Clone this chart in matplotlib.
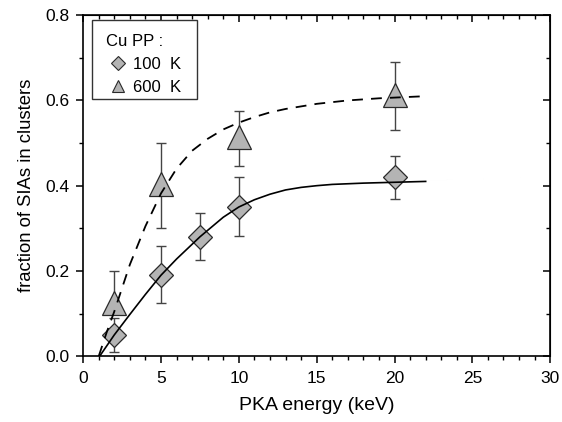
import matplotlib
matplotlib.use("Agg")
import matplotlib.pyplot as plt
from matplotlib.lines import Line2D
from matplotlib.patches import Rectangle
from matplotlib.ticker import MultipleLocator

plt.rcParams['font.family'] = ['Liberation Sans', 'DejaVu Sans']

# 100 K data (diamonds)
e_100 = [2, 5, 7.5, 10, 20]
f_100 = [0.05, 0.19, 0.28, 0.35, 0.42]
lo_100 = [0.01, 0.124, 0.225, 0.282, 0.368]
hi_100 = [0.09, 0.258, 0.335, 0.42, 0.47]

# 600 K data (triangles)
e_600 = [2, 5, 10, 20]
f_600 = [0.125, 0.405, 0.515, 0.613]
lo_600 = [0.107, 0.30, 0.446, 0.53]
hi_600 = [0.20, 0.50, 0.575, 0.69]

# fitted curves
fit100_x = [1.06, 2.0, 3.0, 4.0, 5.0, 6.0, 7.5, 9.0, 10.0, 11.0, 12.0, 13.0, 14.0, 15.0, 16.0, 18.0, 20.0, 22.0]
fit100_y = [0.0, 0.05, 0.098, 0.145, 0.19, 0.228, 0.28, 0.326, 0.35, 0.367, 0.38, 0.39, 0.396, 0.4, 0.403, 0.406, 0.408, 0.41]
fit600_x = [1.0, 1.5, 2.0, 3.0, 4.0, 5.0, 6.0, 7.0, 8.0, 9.0, 10.0, 11.0, 12.0, 13.0, 15.0, 17.0, 19.0, 22.0]
fit600_y = [0.0, 0.055, 0.105, 0.215, 0.305, 0.382, 0.44, 0.482, 0.51, 0.532, 0.548, 0.561, 0.572, 0.58, 0.592, 0.6, 0.605, 0.61]

fill = '#b4b4b4'
edge = '#2a2a2a'
bar_col = '#444444'

fig = plt.figure(figsize=(5.62, 4.22), dpi=100)
ax = fig.add_axes([0.148, 0.156, 0.831, 0.808])

err100 = [[f - l for f, l in zip(f_100, lo_100)], [h - f for f, h in zip(f_100, hi_100)]]
err600 = [[f - l for f, l in zip(f_600, lo_600)], [h - f for f, h in zip(f_600, hi_600)]]

ax.errorbar(e_100, f_100, yerr=err100, fmt='none', ecolor=bar_col, elinewidth=1, capsize=3.5, capthick=1, zorder=1)
ax.errorbar(e_600, f_600, yerr=err600, fmt='none', ecolor=bar_col, elinewidth=1, capsize=3.5, capthick=1, zorder=1)

ax.plot(e_100, f_100, 'D', ms=12, mfc=fill, mec=edge, mew=0.9, ls='none', zorder=2)
ax.plot(e_600, f_600, '^', ms=17, mfc=fill, mec=edge, mew=0.9, ls='none', zorder=2)

ax.plot(fit100_x, fit100_y, '-', color='black', lw=1.2, zorder=3)
ax.plot(fit600_x, fit600_y, '--', color='black', lw=1.3, dashes=(6, 4.5), zorder=3)

ax.set_xlim(0, 30)
ax.set_ylim(0, 0.8)
ax.xaxis.set_major_locator(MultipleLocator(5))
ax.xaxis.set_minor_locator(MultipleLocator(1))
ax.yaxis.set_major_locator(MultipleLocator(0.2))
ax.yaxis.set_minor_locator(MultipleLocator(0.1))
ax.yaxis.set_major_formatter(plt.FormatStrFormatter('%.1f'))

ax.tick_params(which='major', direction='out', length=5, width=1.1, labelsize=12.5, colors='black')
ax.tick_params(axis='x', which='major', pad=5.5)
ax.tick_params(axis='y', which='major', pad=4.5)
ax.tick_params(which='minor', direction='out', length=3, width=1)
for s in ax.spines.values():
    s.set_linewidth(1.2)

top = ax.secondary_xaxis('top')
top.xaxis.set_major_locator(MultipleLocator(5))
top.xaxis.set_minor_locator(MultipleLocator(1))
top.tick_params(which='major', direction='in', length=5, width=1.1, labeltop=False)
top.tick_params(which='minor', direction='in', length=3, width=1)
right = ax.secondary_yaxis('right')
right.yaxis.set_major_locator(MultipleLocator(0.2))
right.yaxis.set_minor_locator(MultipleLocator(0.1))
right.tick_params(which='major', direction='in', length=5, width=1.1, labelright=False)
right.tick_params(which='minor', direction='in', length=3, width=1)

ax.set_xlabel('PKA energy (keV)', fontsize=14, labelpad=8)
ax.set_ylabel('fraction of SIAs in clusters', fontsize=13.3, labelpad=8)

# legend box drawn separately so its height matches the original
ax.add_patch(Rectangle((0.019, 0.754), 0.225, 0.231, transform=ax.transAxes,
                       facecolor='white', edgecolor='#333333', lw=1.0, zorder=4))

handles = [
    Line2D([], [], marker='D', ms=7.5, mfc=fill, mec=edge, mew=0.8, ls='none'),
    Line2D([], [], marker='^', ms=9, mfc=fill, mec=edge, mew=0.8, ls='none'),
]
leg = ax.legend(handles, ['100  K', '600  K'], title='Cu PP :', loc='upper left',
                bbox_to_anchor=(0.02, 0.985), borderaxespad=0, fontsize=12, title_fontsize=12,
                alignment='left', handlelength=1.4, handletextpad=0.2,
                labelspacing=0.5, borderpad=0.8, frameon=False)
leg.set_zorder(5)

fig.savefig('out.png', dpi=100)
